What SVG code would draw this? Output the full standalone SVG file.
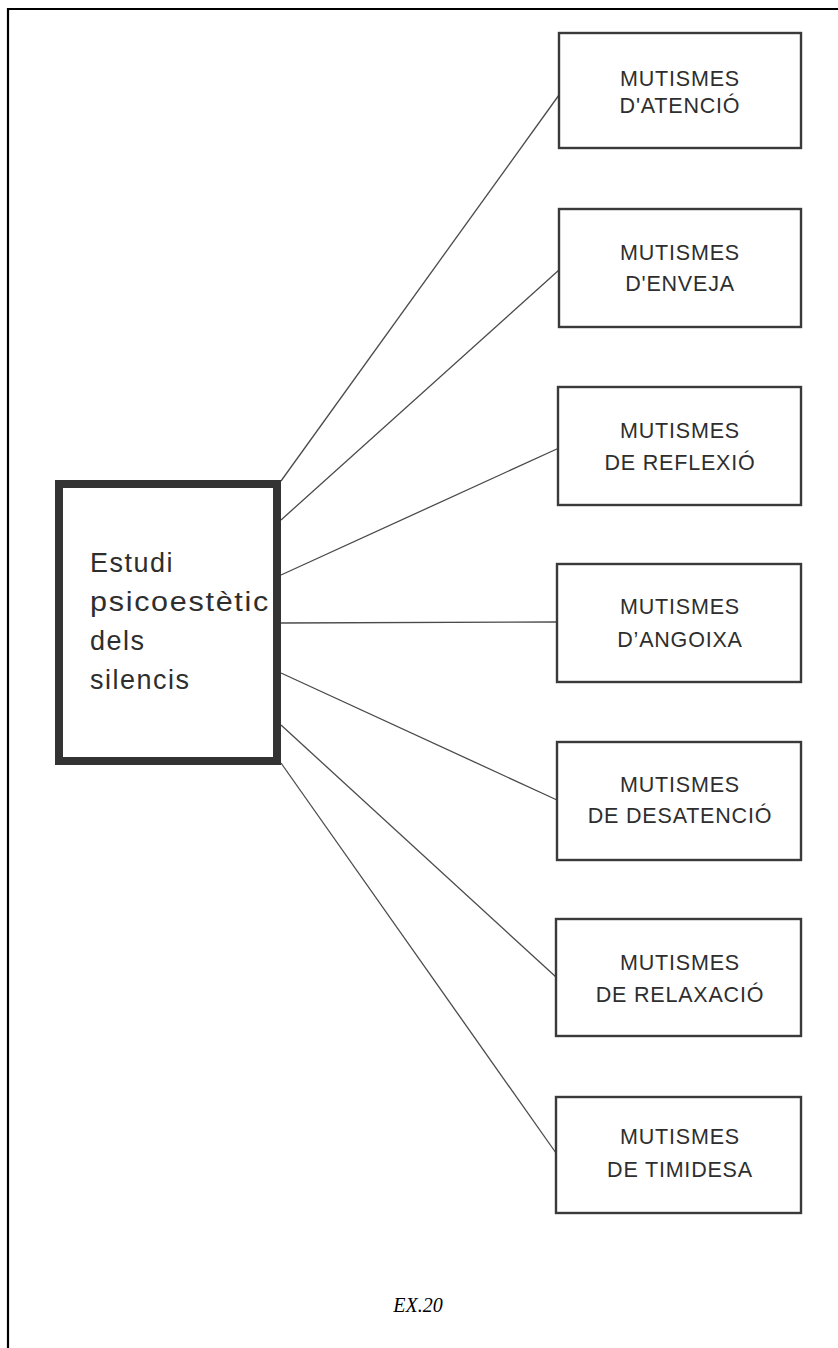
<svg xmlns="http://www.w3.org/2000/svg" width="838" height="1348" viewBox="0 0 838 1348">
<style>
.frame{fill:none;stroke:#000;stroke-width:2.2}
.main{fill:#fff;stroke:#333;stroke-width:8}
.box{fill:#fff;stroke:#3a3a3a;stroke-width:2.4}
.conn line{stroke:#4a4a4a;stroke-width:1.3}
.lbl{font-family:"Liberation Sans",Arial,sans-serif;font-size:21.5px;fill:#2e2e2e;text-anchor:middle;letter-spacing:0.8px}
.mt{font-family:"Liberation Sans",Arial,sans-serif;font-size:27px;fill:#2e2e2e;letter-spacing:1.5px}
.cap{font-family:"Liberation Serif","Times New Roman",serif;font-style:italic;font-size:20px;fill:#000;text-anchor:middle}
</style>
<rect width="838" height="1348" fill="#fff"/>
<path class="frame" d="M8,1348 V9 H838"/>
<g id="connectors" class="conn">
<line x1="281" y1="481" x2="559" y2="95"/>
<line x1="281" y1="520" x2="559" y2="270"/>
<line x1="281" y1="575" x2="559" y2="448"/>
<line x1="281" y1="623" x2="558" y2="622"/>
<line x1="281" y1="673" x2="557" y2="800"/>
<line x1="281" y1="725" x2="556" y2="977"/>
<line x1="281" y1="763" x2="556" y2="1153"/>
</g>
<g id="main">
<rect class="main" x="59" y="484" width="218" height="277"/>
<text class="mt" x="90" y="572">Estudi</text>
<text class="mt" x="90" y="611" textLength="180" lengthAdjust="spacingAndGlyphs">psicoestètic</text>
<text class="mt" x="90" y="650">dels</text>
<text class="mt" x="90" y="689">silencis</text>
</g>
<g id="n1">
<rect class="box" x="559" y="33" width="242" height="115"/>
<text class="lbl" x="680" y="86">MUTISMES</text>
<text class="lbl" x="680" y="113">D'ATENCIÓ</text>
</g>
<g id="n2">
<rect class="box" x="559" y="209" width="242" height="118"/>
<text class="lbl" x="680" y="260">MUTISMES</text>
<text class="lbl" x="680" y="291">D'ENVEJA</text>
</g>
<g id="n3">
<rect class="box" x="558" y="387" width="243" height="118"/>
<text class="lbl" x="680" y="438">MUTISMES</text>
<text class="lbl" x="680" y="470">DE REFLEXIÓ</text>
</g>
<g id="n4">
<rect class="box" x="557" y="564" width="244" height="118"/>
<text class="lbl" x="680" y="614">MUTISMES</text>
<text class="lbl" x="680" y="647">D’ANGOIXA</text>
</g>
<g id="n5">
<rect class="box" x="557" y="742" width="244" height="118"/>
<text class="lbl" x="680" y="792">MUTISMES</text>
<text class="lbl" x="680" y="823">DE DESATENCIÓ</text>
</g>
<g id="n6">
<rect class="box" x="556" y="919" width="245" height="117"/>
<text class="lbl" x="680" y="970">MUTISMES</text>
<text class="lbl" x="680" y="1002">DE RELAXACIÓ</text>
</g>
<g id="n7">
<rect class="box" x="556" y="1097" width="245" height="116"/>
<text class="lbl" x="680" y="1144">MUTISMES</text>
<text class="lbl" x="680" y="1177">DE TIMIDESA</text>
</g>
<text class="cap" x="418" y="1312">EX.20</text>
</svg>
